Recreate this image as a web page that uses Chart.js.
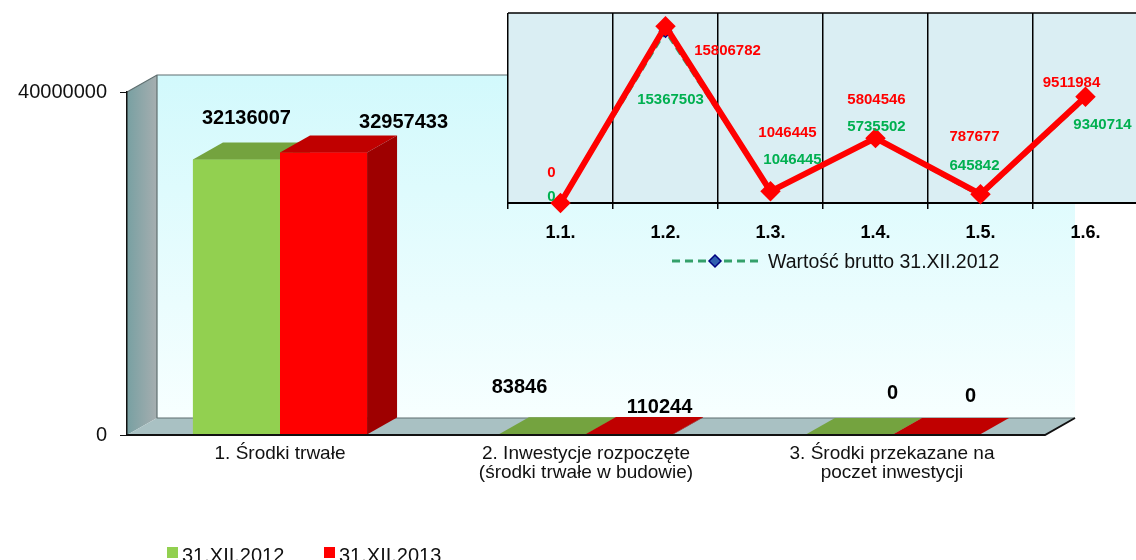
<!DOCTYPE html>
<html lang="pl">
<head>
    <meta charset="UTF-8">
    <title>Środki trwałe</title>
    <style>
        html, body {
            margin: 0;
            padding: 0;
            background: #ffffff;
            overflow: hidden;
            width: 1136px;
            height: 560px;
        }
        #mainChart {
            position: absolute;
            left: 0;
            top: 0;
        }
        #insetChart {
            position: absolute;
            left: 480px;
            top: 0;
        }
    </style>
    <script src="https://cdn.jsdelivr.net/npm/chart.js"></script>
</head>
<body>
    <canvas id="mainChart" width="1136" height="560"></canvas>
    <canvas id="insetChart" width="670" height="290"></canvas>

    <script>
        // ---- main bar chart data ----
        const barCategories = [
            ['1. Środki trwałe'],
            ['2. Inwestycje rozpoczęte', '(środki trwałe w budowie)'],
            ['3. Środki przekazane na', 'poczet inwestycji']
        ];
        const barSeriesNames = ['31.XII.2012', '31.XII.2013'];
        const values2012 = [32136007, 83846, 0];
        const values2013 = [32957433, 110244, 0];
        const yTicks = [0, 40000000];

        // ---- inset line chart data ----
        const lineCategories = ['1.1.', '1.2.', '1.3.', '1.4.', '1.5.', '1.6.'];
        const lineSeriesNames = ['Wartość brutto 31.XII.2012', 'Wartość brutto 31.XII.2013'];
        const brutto2012 = [0, 15367503, 1046445, 5735502, 645842, 9340714];
        const brutto2013 = [0, 15806782, 1046445, 5804546, 787677, 9511984];

        const FONT = '"Liberation Sans", Arial, sans-serif';
        Chart.defaults.font.family = FONT;

        // 3D look of the bar chart
        const DX = 30, DY = -17;
        const barFaces = [
            { front: '#92d050', top: '#74a33f', side: '#5f8a30' },
            { front: '#ff0000', top: '#c00000', side: '#9e0000' }
        ];
        // label placement relative to bar front-top centre (dataset, category)
        const barLabelOffsets = [
            [[10, -41], [-23, -47], [44, -42]],
            [[80, -30], [30, -27], [35, -39]]
        ];
        const legendX = [167, 324];

        function poly(ctx, pts, fill) {
            ctx.beginPath();
            ctx.moveTo(pts[0][0], pts[0][1]);
            for (let i = 1; i < pts.length; i++) ctx.lineTo(pts[i][0], pts[i][1]);
            ctx.closePath();
            ctx.fillStyle = fill;
            ctx.fill();
        }

        const box3d = {
            id: 'box3d',
            beforeDraw(chart) {
                const { ctx, chartArea: a } = chart;
                const L = a.left, R = a.right, T = a.top, B = a.bottom;
                ctx.save();
                // back wall
                let g = ctx.createLinearGradient(0, T + DY, 0, B + DY);
                g.addColorStop(0, '#d2f9fc');
                g.addColorStop(1, '#f7ffff');
                ctx.fillStyle = g;
                ctx.fillRect(L + DX, T + DY, R - L, B - T);
                // left side wall
                g = ctx.createLinearGradient(L, 0, L + DX, 0);
                g.addColorStop(0, '#78a0a2');
                g.addColorStop(1, '#a6aeb0');
                poly(ctx, [[L, T], [L + DX, T + DY], [L + DX, B + DY], [L, B]], g);
                // floor
                poly(ctx, [[L, B], [L + DX, B + DY], [R + DX, B + DY], [R, B]], '#a9c1c3');
                // edges
                ctx.strokeStyle = '#5f6f70';
                ctx.lineWidth = 1.2;
                ctx.beginPath();
                ctx.moveTo(L, T);
                ctx.lineTo(L + DX, T + DY);
                ctx.lineTo(R + DX, T + DY);
                ctx.moveTo(L + DX, T + DY);
                ctx.lineTo(L + DX, B + DY);
                ctx.lineTo(R + DX, B + DY);
                ctx.stroke();
                ctx.restore();
            },
            afterDatasetsDraw(chart) {
                const { ctx, chartArea: a } = chart;
                ctx.save();
                const n = chart.data.labels.length;
                for (let i = 0; i < n; i++) {
                    chart.data.datasets.forEach((ds, d) => {
                        const bar = chart.getDatasetMeta(d).data[i];
                        const f = barFaces[d];
                        const x0 = bar.x - bar.width / 2, x1 = bar.x + bar.width / 2;
                        const top = bar.y, base = bar.base;
                        ctx.fillStyle = f.front;
                        ctx.fillRect(x0, top, x1 - x0, base - top);
                        poly(ctx, [[x0, top], [x0 + DX, top + DY], [x1 + DX, top + DY], [x1, top]], f.top);
                        poly(ctx, [[x1, top], [x1 + DX, top + DY], [x1 + DX, base + DY], [x1, base]], f.side);
                    });
                }
                // floor front and right edges
                ctx.strokeStyle = '#111';
                ctx.lineWidth = 2;
                ctx.beginPath();
                ctx.moveTo(a.left, a.bottom);
                ctx.lineTo(a.right, a.bottom);
                ctx.lineTo(a.right + DX, a.bottom + DY);
                ctx.stroke();
                // value labels
                ctx.font = 'bold 20px ' + FONT;
                ctx.fillStyle = '#000';
                ctx.textAlign = 'center';
                ctx.textBaseline = 'middle';
                chart.data.datasets.forEach((ds, d) => {
                    chart.getDatasetMeta(d).data.forEach((bar, i) => {
                        const o = barLabelOffsets[d][i];
                        ctx.fillText(String(ds.data[i]), bar.x + o[0], bar.y + o[1]);
                    });
                });
                ctx.restore();
            },
            afterDraw(chart) {
                const { ctx } = chart;
                ctx.save();
                ctx.font = '20px ' + FONT;
                ctx.textBaseline = 'alphabetic';
                chart.data.datasets.forEach((ds, i) => {
                    ctx.fillStyle = ds.backgroundColor;
                    ctx.fillRect(legendX[i], 547, 11, 11);
                    ctx.fillStyle = '#111';
                    ctx.fillText(ds.label, legendX[i] + 15, 562);
                });
                ctx.restore();
            }
        };

        new Chart(document.getElementById('mainChart'), {
            type: 'bar',
            data: {
                labels: barCategories,
                datasets: [
                    { label: barSeriesNames[0], data: values2012, backgroundColor: barFaces[0].front },
                    { label: barSeriesNames[1], data: values2013, backgroundColor: barFaces[1].front }
                ]
            },
            options: {
                responsive: false,
                animation: false,
                layout: { padding: { left: 0, right: 91, top: 92, bottom: 0 } },
                datasets: { bar: { barPercentage: 1.0, categoryPercentage: 0.569 } },
                plugins: { legend: { display: false }, tooltip: { enabled: false } },
                scales: {
                    x: {
                        offset: true,
                        grid: { display: false, drawTicks: false },
                        border: { display: false },
                        ticks: {
                            color: '#111',
                            font: { size: 19, lineHeight: 1.0 },
                            padding: 9,
                            maxRotation: 0,
                            autoSkip: false
                        },
                        afterFit: s => { s.height = 125; }
                    },
                    y: {
                        min: 0,
                        max: 40000000,
                        afterBuildTicks: s => { s.ticks = yTicks.map(v => ({ value: v })); },
                        grid: { drawOnChartArea: false, drawTicks: true, tickLength: 7, color: '#111' },
                        border: { display: true, color: '#111', width: 1.5 },
                        ticks: {
                            color: '#111',
                            font: { size: 20 },
                            padding: 13,
                            callback: v => String(v)
                        },
                        afterFit: s => { s.width = 127; }
                    }
                }
            },
            plugins: [box3d]
        });

        // ---- inset line chart ----
        const lineLabelOffsets = [
            [[-9, -6], [5, 69], [22, -31], [1, -12], [-6, -30], [17, 26]],
            [[-9, -30], [62, 25], [17, -58], [1, -38], [-6, -57], [-14, -14]]
        ];
        const lineLabelColors = ['#00b050', '#ff0000'];

        const insetDecor = {
            id: 'insetDecor',
            beforeDraw(chart) {
                const { ctx, chartArea: a } = chart;
                ctx.save();
                ctx.fillStyle = '#daeef3';
                ctx.fillRect(a.left, a.top, a.right - a.left, a.bottom - a.top);
                ctx.strokeStyle = '#000';
                ctx.lineWidth = 1.5;
                ctx.beginPath();
                ctx.moveTo(a.left, a.top);
                ctx.lineTo(a.right, a.top);
                ctx.stroke();
                ctx.restore();
            },
            afterDatasetsDraw(chart) {
                const { ctx } = chart;
                ctx.save();
                ctx.font = 'bold 15px ' + FONT;
                ctx.textAlign = 'center';
                ctx.textBaseline = 'middle';
                chart.data.datasets.forEach((ds, d) => {
                    ctx.fillStyle = lineLabelColors[d];
                    chart.getDatasetMeta(d).data.forEach((pt, i) => {
                        const o = lineLabelOffsets[d][i];
                        ctx.fillText(String(ds.data[i]), pt.x + o[0], pt.y + o[1]);
                    });
                });
                ctx.restore();
            },
            afterDraw(chart) {
                const { ctx } = chart;
                const ds = chart.data.datasets[0];
                const y = 261;
                ctx.save();
                ctx.strokeStyle = ds.borderColor;
                ctx.lineWidth = 3;
                ctx.setLineDash(ds.borderDash);
                ctx.beginPath();
                ctx.moveTo(192, y);
                ctx.lineTo(280, y);
                ctx.stroke();
                ctx.setLineDash([]);
                ctx.beginPath();
                ctx.moveTo(235, y - 6);
                ctx.lineTo(241, y);
                ctx.lineTo(235, y + 6);
                ctx.lineTo(229, y);
                ctx.closePath();
                ctx.fillStyle = ds.pointBackgroundColor;
                ctx.fill();
                ctx.strokeStyle = ds.pointBorderColor;
                ctx.lineWidth = 1.5;
                ctx.stroke();
                ctx.font = '19.5px ' + FONT;
                ctx.fillStyle = '#111';
                ctx.textBaseline = 'middle';
                ctx.fillText(ds.label, 288, y + 2);
                ctx.restore();
            }
        };

        new Chart(document.getElementById('insetChart'), {
            type: 'line',
            data: {
                labels: lineCategories,
                datasets: [
                    {
                        label: lineSeriesNames[0],
                        data: brutto2012,
                        order: 2,
                        borderColor: '#34a06a',
                        borderWidth: 3,
                        borderDash: [8, 5],
                        pointStyle: 'rectRot',
                        pointRadius: 5,
                        pointBackgroundColor: '#2f5fb0',
                        pointBorderColor: '#000080',
                        tension: 0,
                        clip: false
                    },
                    {
                        label: lineSeriesNames[1],
                        data: brutto2013,
                        order: 1,
                        borderColor: '#ff0000',
                        borderWidth: 6,
                        pointStyle: 'rectRot',
                        pointRadius: 6,
                        pointBackgroundColor: '#ff0000',
                        pointBorderColor: '#ff0000',
                        tension: 0,
                        clip: false
                    }
                ]
            },
            options: {
                responsive: false,
                animation: false,
                layout: { padding: { left: 28, right: 2, top: 13, bottom: 0 } },
                plugins: { legend: { display: false }, tooltip: { enabled: false } },
                scales: {
                    x: {
                        offset: true,
                        grid: { offset: true, color: '#000', lineWidth: 1.5, drawTicks: true, tickLength: 6 },
                        border: { display: true, color: '#000', width: 2 },
                        ticks: {
                            color: '#000',
                            font: { size: 18, weight: 'bold' },
                            padding: 13,
                            maxRotation: 0,
                            autoSkip: false
                        },
                        afterFit: s => { s.height = 87; }
                    },
                    y: { display: false, min: 0, max: 17000000 }
                }
            },
            plugins: [insetDecor]
        });
    </script>
</body>
</html>
